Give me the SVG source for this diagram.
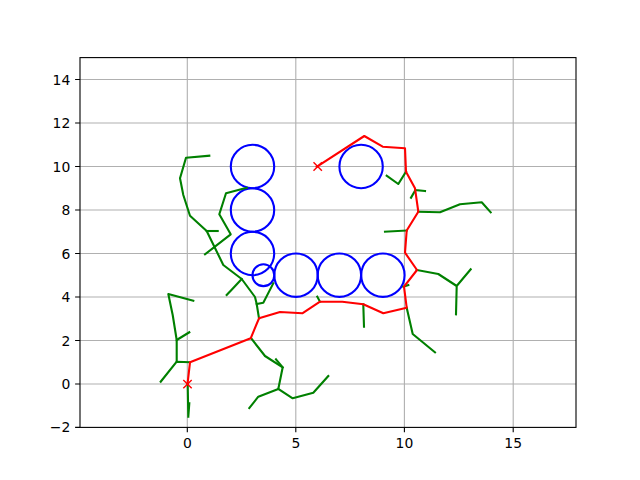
<svg xmlns="http://www.w3.org/2000/svg" width="640" height="480" viewBox="0 0 640 480">
<style>
.grid{stroke:#b0b0b0;stroke-width:1.1;fill:none}
.tick{stroke:#000;stroke-width:1.1}
.lbl{font-family:"DejaVu Sans",sans-serif;font-size:13.9px;fill:#000}
.tree{stroke:#008000;stroke-width:2.1;fill:none;stroke-linejoin:round;stroke-linecap:square}
.path{stroke:#ff0000;stroke-width:2.1;fill:none;stroke-linejoin:round;stroke-linecap:square}
.obs{stroke:#0000ff;stroke-width:2.1;fill:none}
.mk{stroke:#ff0000;stroke-width:1.4;fill:none}
</style>
<rect width="640" height="480" fill="#fff"/>
<g id="grid">
<path class="grid" d="M187.3,57.6V427.4M295.8,57.6V427.4M404.4,57.6V427.4M513.2,57.6V427.4"/>
<path class="grid" d="M80,79.5H576M80,123H576M80,166.5H576M80,210H576M80,253.5H576M80,297H576M80,340.5H576M80,384H576"/>
</g>
<g id="obstacles">
<circle class="obs" cx="252.5" cy="166.5" r="21.7"/>
<circle class="obs" cx="252.5" cy="210" r="21.7"/>
<circle class="obs" cx="252.5" cy="253.5" r="21.7"/>
<circle class="obs" cx="263.4" cy="275.2" r="10.9"/>
<circle class="obs" cx="296" cy="275.2" r="21.7"/>
<circle class="obs" cx="339.4" cy="275.2" r="21.7"/>
<circle class="obs" cx="382.9" cy="275.2" r="21.7"/>
<circle class="obs" cx="361.1" cy="166.5" r="21.7"/>
</g>
<g id="connectors">
<g id="tree">
<path class="tree" d="M187.7,384L188.3,416.7M189.3,403.3L188.3,416.7"/>
<path class="tree" d="M190,362.3L176.7,361.7L160.7,381.7"/>
<path class="tree" d="M176.7,361.7L176.7,340L189.3,332.3"/>
<path class="tree" d="M176.7,340L172.7,315L168.3,294L193.3,300.7"/>
<path class="tree" d="M251.7,339L265,356L282.7,367.3L278.3,389L258.3,396.7L249.3,408"/>
<path class="tree" d="M276,359.3L282.7,367.3"/>
<path class="tree" d="M278.3,389L292.7,398.3L313.3,392.7L328.3,376"/>
<path class="tree" d="M259,318.3L256.7,304L255,297L241.7,279L223.3,265L206.7,231L190,215.7L183.3,195L180,178.3L186,157.7L209.3,155.7"/>
<path class="tree" d="M256.7,304L263.3,302.7L273.3,283.3"/>
<path class="tree" d="M241.7,279L226.7,295"/>
<path class="tree" d="M206.7,231L217.7,231"/>
<path class="tree" d="M205,254.3L230.7,234.3L219.3,214.3L226,193.3L246.7,187.7"/>
<path class="tree" d="M317.3,296.7L320,301.7"/>
<path class="tree" d="M363.3,304.3L364,326.7"/>
<path class="tree" d="M406.7,307.7L412.7,334L435,352.3"/>
<path class="tree" d="M403.3,286.7L408.3,285"/>
<path class="tree" d="M416.7,270L438.3,274L456.7,286L456,314.3M456.7,286L470.7,269.3"/>
<path class="tree" d="M406.7,230.5L385,231.7"/>
<path class="tree" d="M418.3,211.7L440,212.3L460,204.3L481.7,202.3L490.7,212.3"/>
<path class="tree" d="M415.5,190L425,191M415.5,190L411,197.7"/>
<path class="tree" d="M406,171.7L398.3,184L386.7,175.7"/>
</g>
<path id="route" class="path" d="M187.5,384L190,362.3L250.7,338.3L259,318.3L280,312L302.3,313.3L320,301.7L342.3,301.7L363.3,304.3L383.3,313.3L406.7,307.7L404,286.7L417,270L405,252.7L406.7,230.5L418.3,211.7L415,188.3L406,171.7L405,148.3L382.7,146.7L364.3,136L316.7,166.7"/>
</g>
<g id="start"><path class="mk" d="M183.3,380L191.7,388.3M183.3,388.3L191.7,380"/></g>
<g id="goal"><path class="mk" d="M313.5,162.3L321.9,170.7M313.5,170.7L321.9,162.3"/></g>
<g id="axes">
<rect x="80" y="57.6" width="496" height="369.8" fill="none" stroke="#000" stroke-width="1.1"/>
<path class="tick" d="M187.3,427.4v4.9M295.8,427.4v4.9M404.4,427.4v4.9M513.2,427.4v4.9"/>
<path class="tick" d="M80,79.5h-4.9M80,123h-4.9M80,166.5h-4.9M80,210h-4.9M80,253.5h-4.9M80,297h-4.9M80,340.5h-4.9M80,384h-4.9M80,427.4h-4.9"/>
<g class="lbl" text-anchor="middle">
<text x="187.3" y="448">0</text>
<text x="295.8" y="448">5</text>
<text x="404.4" y="448">10</text>
<text x="513.2" y="448">15</text>
</g>
<g class="lbl" text-anchor="end">
<text x="70.3" y="84.5">14</text>
<text x="70.3" y="128">12</text>
<text x="70.3" y="171.5">10</text>
<text x="70.3" y="215">8</text>
<text x="70.3" y="258.5">6</text>
<text x="70.3" y="302">4</text>
<text x="70.3" y="345.5">2</text>
<text x="70.3" y="389">0</text>
<text x="70.3" y="432.4">−2</text>
</g>
</g>
</svg>
